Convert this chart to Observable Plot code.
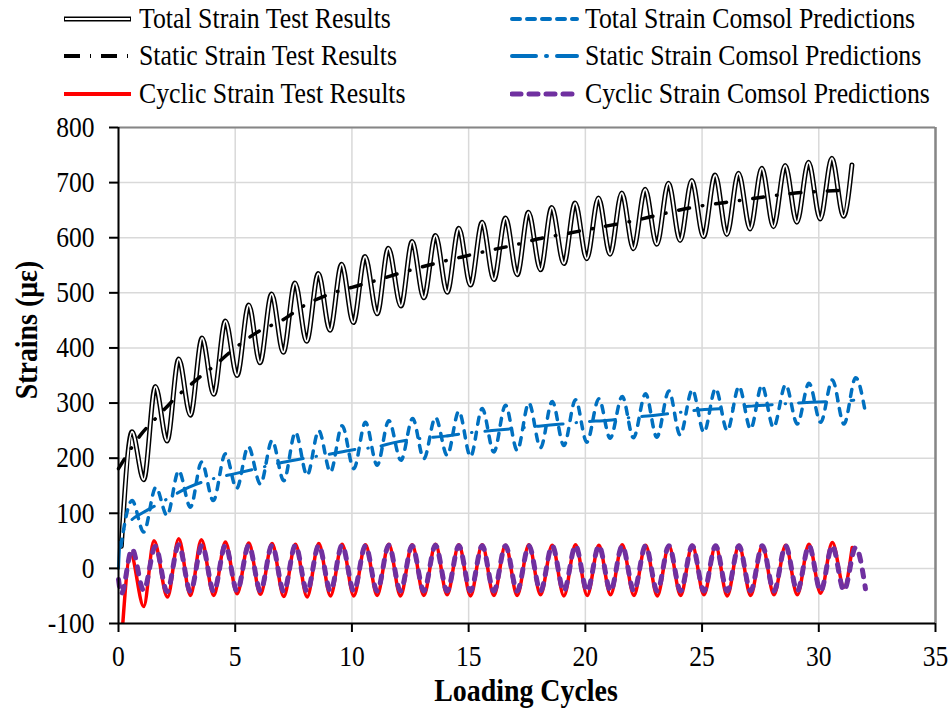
<!DOCTYPE html>
<html><head><meta charset="utf-8">
<script src="https://cdn.jsdelivr.net/npm/d3@7"></script>
<script src="https://cdn.jsdelivr.net/npm/@observablehq/plot@0.6"></script>
<style>
body{margin:0;background:#fff;}
#wrap{position:relative;width:952px;height:711px;font-family:"Liberation Serif","Times New Roman",serif;color:#000;overflow:hidden;background:#fff}
.lg{position:absolute;font-size:29px;line-height:29px;white-space:nowrap;transform:scaleX(0.89);transform-origin:0 50%}
.sw{position:absolute}
#chart{position:absolute;left:0;top:110px}
#chart svg, #chart svg text, #chart svg tspan{font-family:"Liberation Serif","Times New Roman",serif !important;}
.ttl{position:absolute;font-weight:bold;font-size:31px;line-height:31px;white-space:nowrap}
</style></head><body><div id="wrap"><div id="chart"></div></div>
<script>
// ---- Data (x = loading cycles, y = strain in µε) ----
const xTicks = [0, 5, 10, 15, 20, 25, 30, 35];
const yTicks = [-100, 0, 100, 200, 300, 400, 500, 600, 700, 800];

const totalTestX = [0.12, 0.58, 1.08, 1.58, 2.08, 2.58, 3.08, 3.58, 4.08, 4.58, 5.08, 5.58, 6.06, 6.56, 7.06, 7.56, 8.06, 8.56, 9.06, 9.56, 10.06, 10.56, 11.08, 11.56, 12.1, 12.58, 13.08, 13.58, 14.08, 14.58, 15.08, 15.58, 16.08, 16.58, 17.08, 17.56, 18.08, 18.56, 19.08, 19.56, 20.06, 20.56, 21.06, 21.56, 22.06, 22.56, 23.06, 23.56, 24.06, 24.56, 25.06, 25.56, 26.06, 26.56, 27.06, 27.56, 28.06, 28.56, 29.06, 29.56, 30.06, 30.56, 31.06, 31.42];
const totalTestY = [40, 248, 161, 330, 231, 380, 278, 418, 316, 449, 350, 478, 373, 498, 392, 518, 412, 535, 432, 552, 446, 566, 462, 581, 476, 593, 491, 604, 501, 617, 514, 628, 524, 636, 533, 646, 542, 655, 553, 663, 562, 672, 570, 681, 580, 688, 588, 699, 595, 704, 602, 714, 606, 717, 616, 726, 620, 731, 628, 737, 634, 744, 639, 732];

const totalComsolX = [0.1, 0.58, 1.08, 1.6, 2.08, 2.58, 3.08, 3.56, 4.06, 4.58, 5.06, 5.56, 6.08, 6.58, 7.08, 7.58, 8.08, 8.58, 9.08, 9.58, 10.08, 10.58, 11.08, 11.58, 12.1, 12.6, 13.08, 13.58, 14.08, 14.58, 15.08, 15.58, 16.08, 16.58, 17.08, 17.58, 18.08, 18.58, 19.08, 19.58, 20.06, 20.58, 21.06, 21.58, 22.06, 22.58, 23.06, 23.58, 24.06, 24.58, 25.08, 25.58, 26.08, 26.58, 27.08, 27.56, 28.06, 28.58, 29.08, 29.58, 30.08, 30.58, 31.08, 31.58, 32.0];
const totalComsolY = [40, 123, 66, 147, 96, 177, 111, 193, 123, 208, 145, 221, 153, 232, 159, 247, 169, 250, 175, 259, 181, 265, 187, 268, 196, 272, 199, 274, 205, 285, 203, 290, 211, 296, 214, 300, 219, 303, 223, 306, 229, 308, 236, 312, 237, 317, 238, 322, 242, 324, 247, 326, 250, 330, 253, 332, 256, 333, 262, 336, 265, 342, 262, 346, 282];

const staticTestX = [0, 0.5, 1, 1.5, 2, 2.5, 3, 3.5, 4, 5, 6, 7, 8, 9, 10, 11, 12, 13, 14, 15, 16, 17, 18, 19, 20, 21, 22, 23, 24, 25, 26, 27, 28, 29, 30, 31];
const staticTestY = [181, 215, 245, 268, 290, 312, 330, 348, 364, 400, 430, 450, 478, 497, 510, 522, 535, 547, 558, 568, 578, 587, 598, 606, 614, 622, 630, 640, 650, 658, 664, 670, 676, 681, 684, 686];

const staticComsolX = [0, 0.08, 0.5, 1, 1.5, 2, 3, 4, 5, 6, 7, 8, 9, 10, 11, 12, 13, 14, 15, 16, 17, 18, 19, 20, 21, 22, 23, 24, 25, 26, 27, 28, 29, 30, 31, 31.5];
const staticComsolY = [0, 55, 85, 100, 112, 124, 147, 162, 172, 182, 192, 200, 207, 215, 220, 230, 236, 240, 246, 250, 254, 258, 262, 266, 269, 274, 278, 283, 288, 290, 294, 297, 300, 302, 304, 305];

const cyclicTestX = [0.15, 0.52, 1.08, 1.52, 2.1, 2.58, 3.08, 3.55, 4.08, 4.58, 5.08, 5.58, 6.08, 6.58, 7.08, 7.58, 8.08, 8.58, 9.08, 9.58, 10.08, 10.58, 11.08, 11.58, 12.08, 12.58, 13.08, 13.58, 14.08, 14.58, 15.08, 15.58, 16.08, 16.58, 17.08, 17.58, 18.08, 18.58, 19.08, 19.58, 20.08, 20.58, 21.08, 21.58, 22.08, 22.58, 23.08, 23.58, 24.08, 24.58, 25.08, 25.58, 26.08, 26.58, 27.08, 27.58, 28.08, 28.58, 29.08, 29.58, 30.08, 30.58, 31.08, 31.43];
const cyclicTestY = [-120, 26, -69, 50, -52, 54, -49, 52, -49, 48, -46, 46, -47, 45, -51, 44, -52, 45, -50, 44, -50, 43, -49, 44, -50, 43, -49, 44, -48, 43, -50, 43, -49, 42, -49, 43, -48, 42, -50, 43, -49, 42, -48, 43, -49, 42, -50, 41, -49, 42, -48, 41, -50, 42, -49, 41, -48, 42, -48, 44, -45, 47, -34, 38];

const cyclicComsolX = [0, 0.12, 0.58, 1.08, 1.58, 2.08, 2.58, 3.08, 3.58, 4.08, 4.58, 5.08, 5.58, 6.08, 6.58, 7.08, 7.58, 8.08, 8.58, 9.08, 9.58, 10.08, 10.58, 11.08, 11.58, 12.08, 12.58, 13.08, 13.58, 14.08, 14.58, 15.08, 15.58, 16.08, 16.58, 17.08, 17.58, 18.08, 18.58, 19.08, 19.58, 20.08, 20.58, 21.08, 21.58, 22.08, 22.58, 23.08, 23.58, 24.08, 24.58, 25.08, 25.58, 26.08, 26.58, 27.08, 27.58, 28.08, 28.58, 29.08, 29.58, 30.08, 30.58, 31.08, 31.58, 32.0];
const cyclicComsolY = [-20, -46, 35, -40, 40, -42, 43, -42, 42, -42, 42, -41, 42, -41, 42, -42, 42, -42, 42, -41, 42, -41, 41, -41, 42, -41, 41, -41, 42, -41, 41, -41, 41, -41, 41, -41, 41, -41, 41, -41, 41, -41, 41, -41, 41, -41, 41, -41, 41, -41, 41, -41, 41, -41, 41, -41, 41, -41, 41, -41, 41, -41, 41, -40, 38, -37];

const legendLabels = ["Total Strain Test Results", "Total Strain Comsol Predictions", "Static Strain Test Results", "Static Strain Comsol Predictions", "Cyclic Strain Test Results", "Cyclic Strain Comsol Predictions"];
const xTitle = "Loading Cycles";
const yTitle = "Strains (με)";

// ---- Build tables ----
const rows = (xs, ys) => xs.map((x, i) => ({x, y: ys[i]}));
const totalTest = rows(totalTestX, totalTestY);
const totalComsol = rows(totalComsolX, totalComsolY);
const staticTest = rows(staticTestX, staticTestY);
const staticComsol = rows(staticComsolX, staticComsolY);
const cyclicTest = rows(cyclicTestX, cyclicTestY);
const cyclicComsol = rows(cyclicComsolX, cyclicComsolY);

const BLUE = "#0070C0", PURPLE = "#7030A0", RED = "#FF0000";
const SERIF = "Liberation Serif";
const common = {x: "x", y: "y", curve: "monotone-x", strokeLinejoin: "round"};

const chart = Plot.plot({
  width: 952, height: 601,
  marginTop: 17, marginBottom: 88, marginLeft: 118, marginRight: 17,
  x: {domain: [0, 35]},
  y: {domain: [-100, 800]},
  style: {fontFamily: SERIF, fontSize: "29px", color: "#000", background: "#fff", overflow: "visible"},
  marks: [
    Plot.ruleX(xTicks, {stroke: "#d9d9d9", strokeWidth: 1.5}),
    Plot.ruleY(yTicks, {stroke: "#d9d9d9", strokeWidth: 1.5}),
    Plot.ruleY([800], {stroke: "#868686", strokeWidth: 2}),
    Plot.ruleX([35], {stroke: "#868686", strokeWidth: 2.5}),
    // Total strain test: double line
    Plot.line(totalTest, {...common, stroke: "#000", strokeWidth: 5}),
    Plot.line(totalTest, {...common, stroke: "#fff", strokeWidth: 2}),
    // Total strain Comsol: dashed blue
    Plot.line(totalComsol, {...common, stroke: BLUE, strokeWidth: 3.5, strokeDasharray: "7,8", strokeLinecap: "round"}),
    // Static strain test: black dash-dot
    Plot.line(staticTest, {...common, stroke: "#000", strokeWidth: 3.5, strokeDasharray: "11,13,0.5,13", strokeLinecap: "round"}),
    // Static strain Comsol: blue long dash-dot
    Plot.line(staticComsol, {...common, stroke: BLUE, strokeWidth: 3, strokeDasharray: "26,13,0.5,13", strokeLinecap: "round"}),
    // Cyclic strain test: solid red
    Plot.line(cyclicTest, {...common, stroke: RED, strokeWidth: 3.5, clip: true}),
    // Cyclic strain Comsol: purple dashed
    Plot.line(cyclicComsol, {...common, stroke: PURPLE, strokeWidth: 5, strokeDasharray: "7,9", strokeLinecap: "round"}),
    Plot.ruleX([0], {stroke: "#000", strokeWidth: 2}),
    Plot.ruleY([-100], {stroke: "#000", strokeWidth: 2}),
    Plot.axisX({ticks: xTicks, tickSize: 9, tickPadding: 13, strokeWidth: 2, label: null, fontFamily: SERIF, fontSize: 29, tickFormat: d => String(d)}),
    Plot.axisY({ticks: yTicks, tickSize: 9, tickPadding: 15, strokeWidth: 2, label: null, fontFamily: SERIF, fontSize: 29, tickFormat: d => String(d)})
  ]
});
document.getElementById("chart").appendChild(chart);

// Narrow the tick labels horizontally (the reference font is condensed)
d3.select(chart).selectAll('g[aria-label="y-axis tick label"] text, g[aria-label="x-axis tick label"] text')
  .attr("transform", function () {
    const t = this.getAttribute("transform") || "";
    return t + " scale(0.88,1)";
  });

// ---- Legend (HTML above the SVG) ----
const wrap = d3.select("#wrap");
const legendStyles = [
  {kind: "double"},
  {stroke: BLUE, width: 4, dash: "8,7", cap: "round"},
  {stroke: "#000", width: 4, dash: "16,10,1,10", cap: "butt"},
  {stroke: BLUE, width: 4, dash: "24,10,1,10", cap: "round"},
  {stroke: RED, width: 4, dash: null, cap: "butt"},
  {stroke: PURPLE, width: 5, dash: "9,8", cap: "round"}
];
const colX = [[64, 139], [510, 585]];
const rowY = [19, 56, 94];
legendLabels.forEach((label, i) => {
  const col = i % 2, row = Math.floor(i / 2);
  const [lx, tx] = colX[col];
  const cy = rowY[row];
  const svg = wrap.append("svg").attr("class", "sw")
    .style("left", lx + "px").style("top", (cy - 8) + "px")
    .attr("width", 70).attr("height", 16);
  const st = legendStyles[i];
  if (st.kind === "double") {
    svg.append("line").attr("x1", 0).attr("x2", 67).attr("y1", 8).attr("y2", 8).attr("stroke", "#000").attr("stroke-width", 5);
    svg.append("line").attr("x1", 1).attr("x2", 66).attr("y1", 8).attr("y2", 8).attr("stroke", "#fff").attr("stroke-width", 2);
  } else {
    const ln = svg.append("line").attr("x1", st.cap === "round" ? 2 : 0).attr("x2", 67).attr("y1", 8).attr("y2", 8)
      .attr("stroke", st.stroke).attr("stroke-width", st.width).attr("stroke-linecap", st.cap);
    if (st.dash) ln.attr("stroke-dasharray", st.dash);
  }
  wrap.append("div").attr("class", "lg").style("left", tx + "px").style("top", (cy - 15) + "px").text(label);
});

// ---- Axis titles ----
wrap.append("div").attr("class", "ttl").style("left", "526px").style("top", "675px")
  .style("transform", "translateX(-50%) scaleX(0.9)").text(xTitle);
wrap.append("div").attr("class", "ttl").style("left", "26px").style("top", "330px")
  .style("transform", "translate(-50%,-50%) rotate(-90deg) scaleX(0.9)").text(yTitle);
</script>
</body></html>
